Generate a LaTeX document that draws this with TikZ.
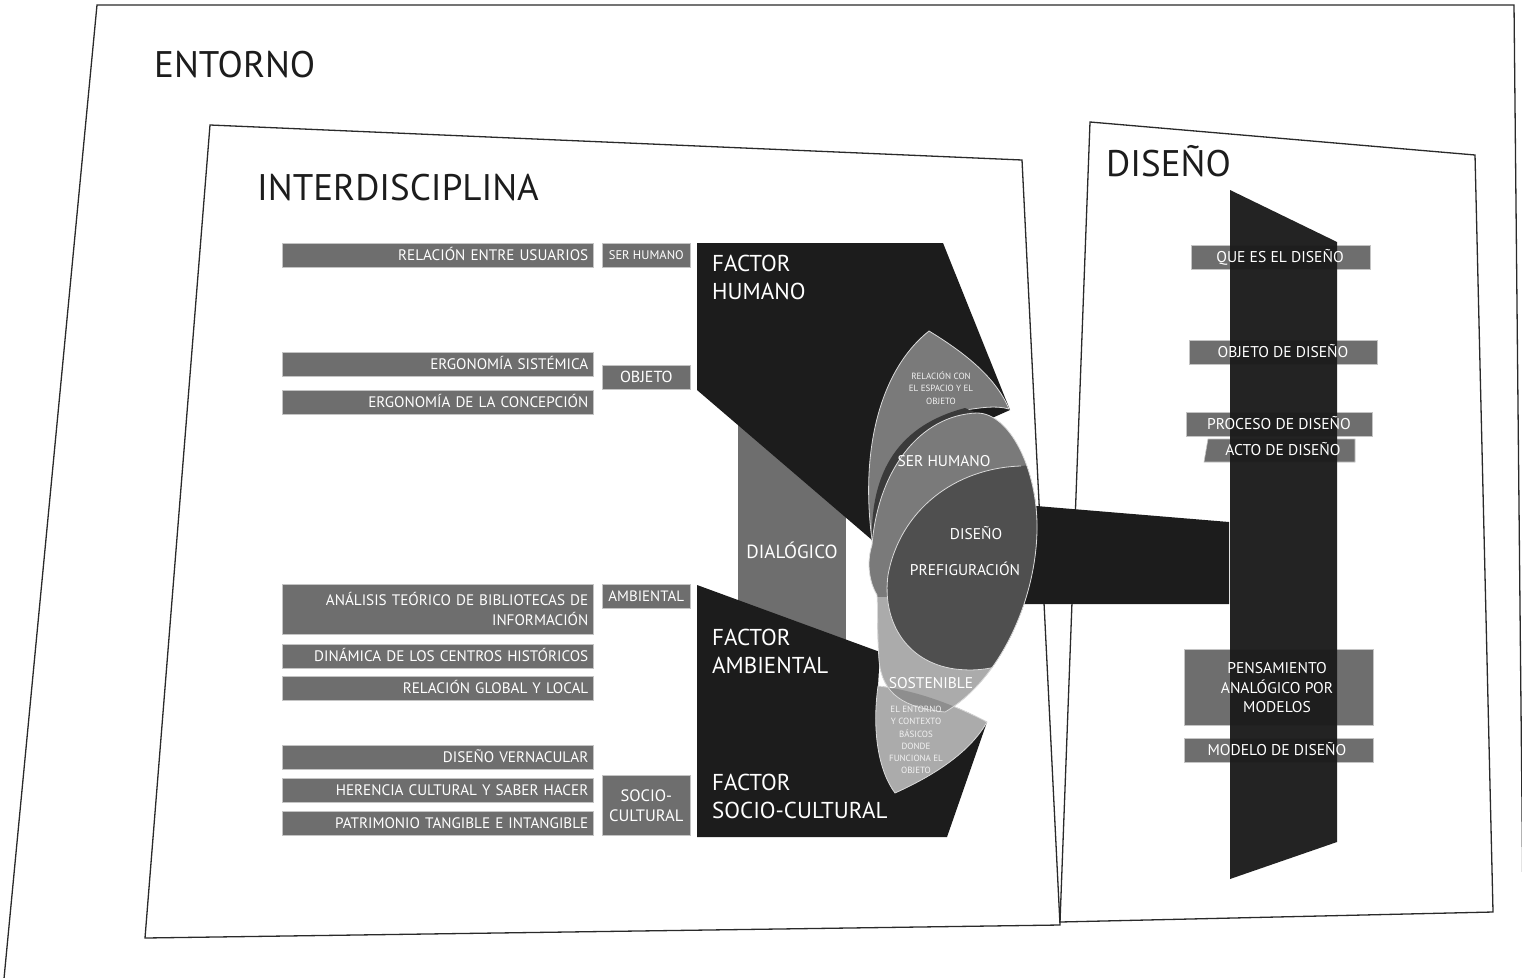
\documentclass[tikz,border=0pt]{standalone}
\usepackage{fontspec}
\setmainfont{PT Sans}
\definecolor{blk}{HTML}{1C1C1C}
\definecolor{bgray}{HTML}{6E6E6E}
\definecolor{bedge}{HTML}{C4C4C4}
\definecolor{pmid}{HTML}{7A7A7A}
\definecolor{pdark}{HTML}{4F4F4F}
\definecolor{plight}{HTML}{ABABAB}
\definecolor{pover}{HTML}{8E8E8E}
\definecolor{streak}{HTML}{3A3A3A}
\definecolor{frame}{HTML}{2A2A2A}
\definecolor{pline}{HTML}{DADADA}
\tikzset{
  frameline/.style={draw=frame, line width=1.3pt, line join=miter},
  titletext/.style={text=blk, font=\fontsize{37}{40}\selectfont, inner sep=0pt, anchor=west},
  lbox/.style={fill=bgray, draw=bedge, line width=0.6pt, text=white, font=\fontsize{15.2}{20}\selectfont, align=right, inner xsep=5pt, inner ysep=0pt, text width=301pt, minimum width=311pt, minimum height=24pt, anchor=north west},
  lboxone/.style={lbox, text height=10.6pt, text depth=0pt},
  sbox/.style={fill=bgray, draw=bedge, line width=0.6pt, text=white, font=\fontsize{15}{19.5}\selectfont, align=center, inner sep=0pt, minimum width=88pt, minimum height=24pt, anchor=north west},
  ftext/.style={text=white, font=\fontsize{23}{28}\selectfont, align=left, anchor=west, inner sep=0pt},
  ptext/.style={text=white, font=\fontsize{15.5}{17}\selectfont, inner sep=0pt, align=center},
  tinytext/.style={text=white!90!gray, font=\fontsize{9}{12.2}\selectfont, inner sep=0pt, align=center},
  rbox/.style={fill=bgray, draw=bedge, line width=0.6pt, inner sep=0pt, anchor=north west},
  rtext/.style={text=white, font=\fontsize{15.6}{19.5}\selectfont, inner sep=0pt, align=center},
  petalline/.style={draw=pline, line width=0.8pt},
  Epath/.style={insert path={(872,545) .. controls (878,470) and (920,415) .. (977,413) .. controls (1010,413) and (1038,470) .. (1037,530) .. controls (1036,600) and (1000,680) .. (945,712) .. controls (905,708) and (882,695) .. (879,660) .. controls (877,630) and (878,610) .. (877,595) .. controls (868,580) and (867,560) .. (872,545) -- cycle}},
  Entpath/.style={insert path={(878,686) .. controls (872,730) and (878,770) .. (895,793) .. controls (935,775) and (970,752) .. (987,722) .. controls (955,705) and (915,690) .. (878,686) -- cycle}},
}
\begin{document}
\begin{tikzpicture}[x=1pt,y=-1pt]
\useasboundingbox (0,0) rectangle (1522,977);
\clip (0,0) rectangle (1522,977);
\fill[white] (0,0) rectangle (1522,977);

% frames
\draw[frameline] (1,1010) -- (97,5) -- (1514,5) -- (1524,1010);
\draw[frameline] (210,125) -- (1022,160) -- (1060,925) -- (145,938) -- cycle;
\draw[frameline] (1090,122) -- (1475,155) -- (1493,912) -- (1060,922) -- cycle;

% titles
\node[titletext] (tEnt) at (154,65) {ENTORNO};
\node[titletext] (tInt) at (257,188) {INTERDISCIPLINA};
\node[titletext] (tDis) at (1106,161) {DISEÑO};

% left boxes
\node[lboxone] (l1) at (282,243) {RELACIÓN ENTRE USUARIOS};
\node[sbox, font=\fontsize{12.5}{14}\selectfont] (s1) at (602,243) {SER HUMANO};
\node[lboxone] (l2) at (282,352) {ERGONOMÍA SISTÉMICA};
\node[lboxone] (l3) at (282,390) {ERGONOMÍA DE LA CONCEPCIÓN};
\node[sbox, font=\fontsize{16}{18}\selectfont] (s2) at (602,365) {OBJETO};
\node[lbox, minimum height=50pt] (l4) at (282,584) {ANÁLISIS TEÓRICO DE BIBLIOTECAS DE\\INFORMACIÓN};
\node[sbox] (s3) at (602,584) {AMBIENTAL};
\node[lboxone] (l5) at (282,644) {DINÁMICA DE LOS CENTROS HISTÓRICOS};
\node[lboxone] (l6) at (282,676) {RELACIÓN GLOBAL Y LOCAL};
\node[lboxone] (l7) at (282,745) {DISEÑO VERNACULAR};
\node[lboxone] (l8) at (282,778) {HERENCIA CULTURAL Y SABER HACER};
\node[lboxone] (l9) at (282,811) {PATRIMONIO TANGIBLE E INTANGIBLE};
\node[sbox, minimum height=60pt, font=\fontsize{16.5}{20}\selectfont] (s4) at (602,775) {SOCIO-\\CULTURAL};

% dialogico
\node[fill=bgray, minimum width=108pt, minimum height=260pt, inner sep=0pt, text=white, font=\fontsize{19}{21}\selectfont] (dial) at (792,550) {DIALÓGICO};

% bar to diseño column
\fill[blk] (1000,503) -- (1229,522) -- (1229,604) -- (1000,604) -- cycle;

% black factor shapes
\fill[blk] (697,243) -- (943,243) -- (1010,410) -- (965,430) -- (872,540) -- (697,390) -- cycle;
\fill[blk] (697,585) -- (880,652) -- (878,686) .. controls (915,690) and (955,705) .. (987,722) -- (947,837) -- (697,837) -- cycle;

\node[ftext] (fh) at (712,277) {FACTOR\\HUMANO};
\node[ftext] (fa) at (712,651) {FACTOR\\AMBIENTAL};
\node[ftext] (fs) at (712,796) {FACTOR\\SOCIO-CULTURAL};

% relacion petal
\path[fill=pmid, petalline] (872,540) .. controls (860,450) and (880,370) .. (929,331) .. controls (960,350) and (995,375) .. (1009,409) .. controls (995,405) and (980,408) .. (965,410) -- cycle;
% dark streak
\fill[streak] (872,542) .. controls (870,470) and (900,425) .. (965,408) -- (977,413) .. controls (920,415) and (878,470) .. (872,545) -- cycle;
% entorno petal
\path[fill=plight, petalline, Entpath];
% big lens
\begin{scope}
  \clip[Epath];
  \fill[pmid] (850,400) rectangle (1050,720);
  \fill[plight] (850,597) rectangle (1050,720);
  \fill[pdark] (1060,462) -- (1021,466) .. controls (955,468) and (900,510) .. (888,575) .. controls (882,620) and (905,662) .. (955,669) .. controls (980,672) and (1000,668) .. (1030,655) -- (1080,655) -- (1080,462) -- cycle;
  \draw[petalline] (1021,466) .. controls (955,468) and (900,510) .. (888,575) .. controls (882,620) and (905,662) .. (955,669) .. controls (980,672) and (1000,668) .. (1030,655);
  \begin{scope}
    \clip[Entpath];
    \fill[pover] (850,600) rectangle (1050,720);
  \end{scope}
\end{scope}
\path[petalline, Epath];

% petal texts
\node[tinytext] (tRel) at (941,388) {RELACIÓN CON\\EL ESPACIO Y EL\\OBJETO};
\node[ptext, anchor=base] (tSer) at (944,466) {SER HUMANO};
\node[ptext, anchor=base] (tDi) at (976,539) {DISEÑO};
\node[ptext, anchor=base] (tPre) at (965,575) {PREFIGURACIÓN};
\node[ptext, anchor=base] (tSos) at (931,688) {SOSTENIBLE};
\node[tinytext] (tEnv) at (916,740) {EL ENTORNO\\Y CONTEXTO\\BÁSICOS\\DONDE\\FUNCIONA EL\\OBJETO};

% right boxes
\node[rbox, minimum width=179pt, minimum height=24pt] (rb1) at (1191,245) {};
\node[rbox, minimum width=188pt, minimum height=24pt] (rb2) at (1189,340) {};
\node[rbox, minimum width=186pt, minimum height=24pt] (rb3) at (1186,412) {};
\path[fill=bgray, draw=bedge, line width=0.6pt] (1208,439) -- (1355,439) -- (1355,462) -- (1204,462) -- cycle;
\node[rbox, minimum width=189pt, minimum height=76pt] (rb5) at (1184,649) {};
\node[rbox, minimum width=189pt, minimum height=24pt] (rb6) at (1184,738) {};

% diseño column
\fill[blk, fill opacity=0.97] (1230,190) -- (1337,242) -- (1337,842) -- (1230,879) -- cycle;

\node[rtext, anchor=base] (r1) at (1280,262) {QUE ES EL DISEÑO};
\node[rtext, anchor=base] (r2) at (1283,357) {OBJETO DE DISEÑO};
\node[rtext, anchor=base] (r3) at (1279,429) {PROCESO DE DISEÑO};
\node[rtext, anchor=base] (r4) at (1283,455) {ACTO DE DISEÑO};
\node[rtext] (r5) at (1277,688) {PENSAMIENTO\\ANALÓGICO POR\\MODELOS};
\node[rtext, anchor=base] (r6) at (1277,755) {MODELO DE DISEÑO};
\end{tikzpicture}
\end{document}
